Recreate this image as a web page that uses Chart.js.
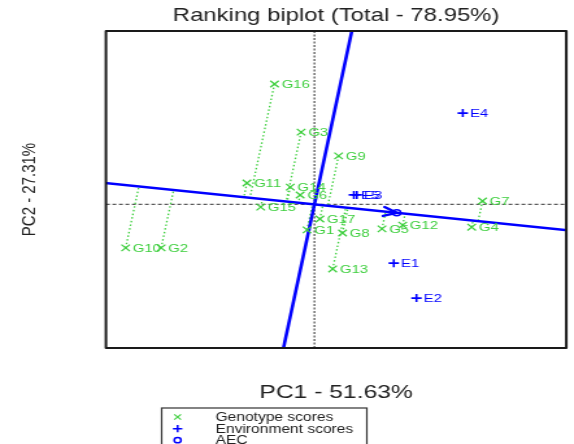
<!DOCTYPE html>
<html>
<head>
<meta charset="utf-8">
<script src="https://cdn.jsdelivr.net/npm/chart.js@4/dist/chart.umd.min.js"></script>
<style>
  html, body { margin: 0; padding: 0; background: #ffffff; overflow: hidden; }
  #c { display: block; background: #ffffff; }
</style>
</head>
<body>
<canvas id="c" width="442" height="444" style="width:574px;height:444px;display:block;"></canvas>
<script>
// ---- data ----
const genotypeLabels = ['G1','G2','G3','G4','G5','G6','G7','G8','G9','G10','G11','G12','G13','G14','G15','G16','G17'];
const genotypePC1 = [-0.15, -3.11, -0.27, 3.19, 1.37, -0.29, 3.41, 0.57, 0.49, -3.83, -1.37, 1.79, 0.37, -0.49, -1.09, -0.81, 0.11];
const genotypePC2 = [-0.75, -1.28, 2.13, -0.67, -0.72, 0.28, 0.10, -0.84, 1.43, -1.28, 0.63, -0.61, -1.90, 0.51, -0.08, 3.55, -0.43];
const envLabels = ['E1','E2','E3','E4','E5'];
const envPC1 = [1.61, 2.07, 0.86, 3.01, 0.80];
const envPC2 = [-1.73, -2.76, 0.28, 2.69, 0.28];
const axisRange = [-4.23, 5.11];
const titleText = 'Ranking biplot (Total - 78.95%)';
const xTitle = 'PC1 - 51.63%';
const yTitle = 'PC2 - 27.31%';
const legendLabels = ['Genotype scores', 'Environment scores', 'AEC'];

// ---- styles ----
const GREEN = '#3fcf3f';
const BLUE = '#0000ff';
const FONT = '"Liberation Sans", Arial, Helvetica, sans-serif';

// Average environment coordinate (AEC) = mean of environment scores
const aecX = envPC1.reduce((a, b) => a + b, 0) / envPC1.length;
const aecY = envPC2.reduce((a, b) => a + b, 0) / envPC2.length;
const aecLen = Math.hypot(aecX, aecY);
const ux = aecX / aecLen, uy = aecY / aecLen;
const FAR = 30;

const genotypePts = genotypeLabels.map((l, i) => ({x: genotypePC1[i], y: genotypePC2[i]}));
const envPts = envLabels.map((l, i) => ({x: envPC1[i], y: envPC2[i]}));

// perpendicular projections of genotypes onto the AEC abscissa
const projPts = [];
genotypePts.forEach(p => {
  const d = p.x * ux + p.y * uy;
  projPts.push({x: p.x, y: p.y});
  projPts.push({x: d * ux, y: d * uy});
  projPts.push({x: p.x, y: null});
});

const lineDs = (data, color, width, dash, order) => ({
  type: 'line', data, borderColor: color, borderWidth: width, borderDash: dash,
  pointRadius: 0, pointHoverRadius: 0, fill: false, tension: 0, spanGaps: false,
  clip: 0, order
});

const annotPlugin = {
  id: 'biplotAnnot',
  afterDatasetsDraw(chart) {
    const ctx = chart.ctx;
    const xs = chart.scales.x, ys = chart.scales.y;
    const area = chart.chartArea;
    ctx.save();
    // arrow head at AEC
    const x0 = xs.getPixelForValue(0), y0 = ys.getPixelForValue(0);
    const x1 = xs.getPixelForValue(aecX), y1 = ys.getPixelForValue(aecY);
    const ang = Math.atan2(y1 - y0, x1 - x0);
    const L = 11, A = 0.42;
    ctx.strokeStyle = BLUE; ctx.lineWidth = 2.4; ctx.lineCap = 'round'; ctx.lineJoin = 'round';
    ctx.beginPath();
    ctx.moveTo(x1 - L * Math.cos(ang - A), y1 - L * Math.sin(ang - A));
    ctx.lineTo(x1, y1);
    ctx.lineTo(x1 - L * Math.cos(ang + A), y1 - L * Math.sin(ang + A));
    ctx.stroke();
    // point labels
    ctx.font = '11.5px ' + FONT;
    ctx.textBaseline = 'middle'; ctx.textAlign = 'left';
    [[0, genotypeLabels, GREEN], [1, envLabels, BLUE]].forEach(([di, labels, col]) => {
      const meta = chart.getDatasetMeta(di);
      ctx.fillStyle = col;
      meta.data.forEach((pt, i) => ctx.fillText(labels[i], pt.x + 5.5, pt.y + 0.5));
    });
    // frame
    ctx.strokeStyle = '#1a1a1a'; ctx.lineWidth = 2; ctx.lineCap = 'butt';
    ctx.strokeRect(area.left, area.top, area.right - area.left, area.bottom - area.top);
    ctx.restore();
  },
  afterDraw(chart) {
    const ctx = chart.ctx;
    ctx.save();
    // legend box
    ctx.strokeStyle = '#333'; ctx.lineWidth = 1.2;
    ctx.strokeRect(124.5, 408, 158, 60);
    const mx = 136.8, rows = [417, 428.7, 440.2];
    // genotype marker (x)
    ctx.strokeStyle = GREEN; ctx.lineWidth = 1.1;
    ctx.beginPath();
    ctx.moveTo(mx - 2.6, rows[0] - 2.6); ctx.lineTo(mx + 2.6, rows[0] + 2.6);
    ctx.moveTo(mx - 2.6, rows[0] + 2.6); ctx.lineTo(mx + 2.6, rows[0] - 2.6);
    ctx.stroke();
    // environment marker (+)
    ctx.strokeStyle = BLUE; ctx.lineWidth = 1.5;
    ctx.beginPath();
    ctx.moveTo(mx - 3.6, rows[1]); ctx.lineTo(mx + 3.6, rows[1]);
    ctx.moveTo(mx, rows[1] - 3.6); ctx.lineTo(mx, rows[1] + 3.6);
    ctx.stroke();
    // AEC marker (o)
    ctx.beginPath(); ctx.arc(mx, rows[2], 2.6, 0, Math.PI * 2); ctx.stroke();
    ctx.fillStyle = '#222';
    ctx.font = '12px ' + FONT;
    ctx.textBaseline = 'middle'; ctx.textAlign = 'left';
    legendLabels.forEach((t, i) => ctx.fillText(t, 166, rows[i] + 0.5));
    ctx.restore();
  }
};

new Chart(document.getElementById('c'), {
  type: 'scatter',
  data: {
    datasets: [
      { label: 'Genotype scores', data: genotypePts, pointStyle: 'crossRot', radius: 4.6,
        borderColor: GREEN, backgroundColor: GREEN, borderWidth: 1.3, order: 2 },
      { label: 'Environment scores', data: envPts, pointStyle: 'cross', radius: 4,
        borderColor: BLUE, backgroundColor: BLUE, borderWidth: 1.6, order: 1 },
      { label: 'AEC', data: [{x: aecX, y: aecY}], pointStyle: 'circle', radius: 3,
        borderColor: BLUE, backgroundColor: 'rgba(0,0,0,0)', borderWidth: 1.5, order: 0 },
      lineDs([{x: -FAR * ux, y: -FAR * uy}, {x: FAR * ux, y: FAR * uy}], BLUE, 2.6, [], 5),
      lineDs([{x: FAR * uy, y: -FAR * ux}, {x: -FAR * uy, y: FAR * ux}], BLUE, 2.6, [], 5),
      lineDs(projPts, GREEN, 1.3, [1.5, 2.2], 7),
      lineDs([{x: axisRange[0], y: 0}, {x: axisRange[1], y: 0}], '#5a5a5a', 1.3, [3, 2], 9),
      lineDs([{x: 0, y: axisRange[0]}, {x: 0, y: axisRange[1]}], '#5a5a5a', 1.3, [2, 1.5], 9)
    ]
  },
  options: {
    responsive: false,
    devicePixelRatio: 1,
    animation: false,
    events: [],
    layout: { padding: { left: 0, right: 1, top: 0, bottom: 0 } },
    plugins: {
      legend: { display: false },
      tooltip: { enabled: false },
      title: {
        display: true, text: titleText, fullSize: false, color: '#222',
        font: { family: FONT, size: 18.4, weight: 'normal', lineHeight: 1.2 },
        padding: { top: 4.4, bottom: 4.5 }
      }
    },
    scales: {
      x: {
        type: 'linear', min: axisRange[0], max: axisRange[1],
        grid: { display: false, drawTicks: false },
        border: { display: false },
        ticks: { display: false },
        title: { display: true, text: xTitle, color: '#222',
          font: { family: FONT, size: 19, weight: 'normal', lineHeight: 1.2 },
          padding: { top: 33.1, bottom: 40.1 } }
      },
      y: {
        type: 'linear', min: axisRange[0], max: axisRange[1],
        grid: { display: false, drawTicks: false },
        border: { display: false },
        ticks: { display: false },
        title: { display: true, text: yTitle, color: '#222',
          font: { family: FONT, size: 15, weight: 'normal', lineHeight: 1.2 },
          padding: { top: 14.1, bottom: 49.5 } }
      }
    }
  },
  plugins: [annotPlugin]
});
</script>
</body>
</html>
